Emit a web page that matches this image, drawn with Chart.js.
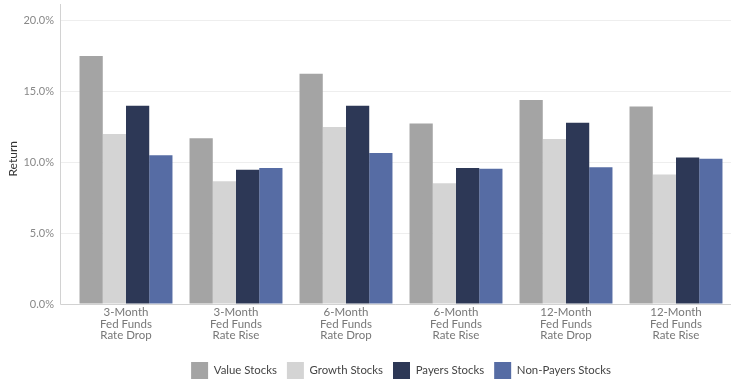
<!DOCTYPE html>
<html>
<head>
<meta charset="utf-8">
<script src="https://cdn.jsdelivr.net/npm/chart.js@4.4.1/dist/chart.umd.min.js"></script>
<style>
  html, body { margin: 0; padding: 0; background: #fff; }
  #wrap { width: 733px; height: 381px; }
</style>
</head>
<body>
<div id="wrap"><canvas id="returnsChart"></canvas></div>
<script>
// --- DATA ---
const categories = [
    ['3-Month', 'Fed Funds', 'Rate Drop'],
    ['3-Month', 'Fed Funds', 'Rate Rise'],
    ['6-Month', 'Fed Funds', 'Rate Drop'],
    ['6-Month', 'Fed Funds', 'Rate Rise'],
    ['12-Month', 'Fed Funds', 'Rate Drop'],
    ['12-Month', 'Fed Funds', 'Rate Rise']
];
const valueStocks     = [17.5, 11.7, 16.25, 12.75, 14.4, 13.95];
const growthStocks    = [12.0, 8.67, 12.5, 8.53, 11.65, 9.14];
const payersStocks    = [14.0, 9.47, 14.0, 9.6, 12.8, 10.35];
const nonPayersStocks = [10.5, 9.6, 10.66, 9.55, 9.65, 10.26];
const yTickValues     = [0, 5, 10, 15, 20];

// --- CHART ---
Chart.defaults.font.family = "Lato, 'Liberation Sans', sans-serif";
Chart.defaults.font.size = 11;

// y axis line sits a little left of the plot area and runs above it
const axisLines = {
    id: 'axisLines',
    afterDatasetsDraw(chart) {
        const { ctx, chartArea } = chart;
        ctx.save();
        ctx.strokeStyle = '#d2d2d2';
        ctx.lineWidth = 1;
        ctx.beginPath();
        ctx.moveTo(chartArea.left - 10.5, 4);
        ctx.lineTo(chartArea.left - 10.5, chartArea.bottom + 0.5);
        ctx.lineTo(chartArea.right, chartArea.bottom + 0.5);
        ctx.stroke();
        ctx.restore();
    }
};

new Chart(document.getElementById('returnsChart'), {
    type: 'bar',
    data: {
        labels: categories,
        datasets: [
            { label: 'Value Stocks', data: valueStocks, backgroundColor: '#a4a4a4' },
            { label: 'Growth Stocks', data: growthStocks, backgroundColor: '#d4d4d4' },
            { label: 'Payers Stocks', data: payersStocks, backgroundColor: '#2d3856' },
            { label: 'Non-Payers Stocks', data: nonPayersStocks, backgroundColor: '#566ca4' }
        ]
    },
    options: {
        responsive: true,
        maintainAspectRatio: false,
        animation: false,
        layout: { padding: { top: 0, right: 2, bottom: -8, left: 0 } },
        datasets: { bar: { barPercentage: 1, categoryPercentage: 0.845 } },
        plugins: {
            legend: {
                position: 'bottom',
                fullSize: false,
                labels: { boxWidth: 17, boxHeight: 17, padding: 10, color: '#444', font: { size: 11.4 } }
            },
            tooltip: { enabled: false }
        },
        scales: {
            y: {
                min: 0,
                max: 20.5,
                afterBuildTicks: s => { s.ticks = yTickValues.map(v => ({ value: v })); },
                afterFit: s => { s.width = 71; },
                title: { display: true, text: 'Return', color: '#333', font: { size: 12 }, padding: { top: 6, bottom: 0 } },
                ticks: { color: '#888', padding: 7, callback: v => v.toFixed(1) + '%' },
                grid: { color: '#eeeeee', tickLength: 10, tickColor: '#eeeeee' },
                border: { display: false }
            },
            x: {
                afterFit: s => { s.height = 48; },
                ticks: { color: '#777', padding: 3, maxRotation: 0, font: { size: 11.5, lineHeight: 1 } },
                grid: { display: false, drawTicks: false },
                border: { display: false }
            }
        }
    },
    plugins: [axisLines]
});
</script>
</body>
</html>
